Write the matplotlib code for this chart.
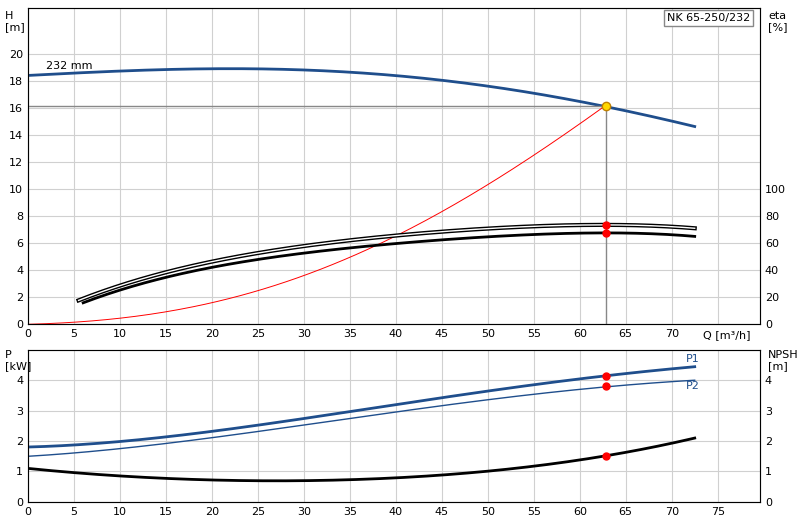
import matplotlib
matplotlib.use("Agg")
import matplotlib.pyplot as plt
import numpy as np

q_h = [0, 10, 20, 30, 40, 50, 55, 60, 63, 72.5]
h = [18.4, 18.7, 18.9, 18.8, 18.4, 17.6, 17.0, 16.5, 16.1, 14.6]
q_sys = [0, 5, 10, 15, 20, 25, 30, 35, 40, 45, 50, 55, 60, 62.8]
h_sys = [0, 0.1, 0.4, 0.9, 1.6, 2.5, 3.6, 4.9, 6.5, 8.3, 10.3, 12.5, 14.9, 16.1]
q_eta1 = [6, 10, 17, 25, 30, 40, 50, 60, 63, 72.5]
eta1 = [15, 26, 38, 47, 52, 60, 65, 67, 67, 65]
q_eta2 = [5.5, 10, 17, 25, 30, 40, 50, 60, 63, 72.5]
eta2 = [17, 29, 42, 52, 57, 66, 71, 73, 73, 71]
q_p = [0, 10, 20, 30, 40, 50, 63, 72.5]
p1 = [1.8, 2.0, 2.3, 2.75, 3.2, 3.65, 4.15, 4.45]
p2 = [1.5, 1.75, 2.1, 2.55, 2.95, 3.35, 3.8, 4.0]
q_npsh = [0, 10, 20, 30, 40, 50, 55, 63, 67, 72.5]
npsh = [1.1, 0.85, 0.72, 0.7, 0.78, 1.0, 1.2, 1.5, 1.75, 2.1]
q_op = 62.8

def smooth(x, y, n=200):
    x = np.asarray(x, float); y = np.asarray(y, float)
    c = np.polyfit(x, y, min(4, len(x) - 1))
    xs = np.linspace(x[0], x[-1], n)
    return xs, np.polyval(c, xs)

fig = plt.figure(figsize=(8, 5.2), dpi=100)
ax1 = fig.add_axes([0.035, 0.377, 0.915, 0.608])
ax2 = fig.add_axes([0.035, 0.035, 0.915, 0.292])
blue = "#1f4e8c"
for ax in (ax1, ax2):
    ax.set_xlim(0, 79.6)
    ax.set_xticks(np.arange(0, 80, 5))
    ax.grid(True, color="#d0d0d0", lw=0.8)
    ax.tick_params(labelsize=8, length=0)
    for s in ax.spines.values():
        s.set_color("#888888")
ax1.set_ylim(0, 23.4)
ax1.set_yticks(np.arange(0, 22, 2))
ax1.set_xticklabels([str(v) for v in range(0, 75, 5)] + [""])
ax1.text(76, -0.8, "Q [m³/h]", fontsize=8, ha="center", va="center")

xs, ys = smooth(q_h, h); ax1.plot(xs, ys, color=blue, lw=2)
xs, ys = smooth(q_sys, h_sys); ax1.plot(xs, ys, color="red", lw=0.7)
xs, ys = smooth(q_eta1, np.array(eta1) / 10); ax1.plot(xs, ys, color="black", lw=2)
xs, ys = smooth(q_eta2, np.array(eta2) / 10)
ax1.plot(xs, ys, color="black", lw=3); ax1.plot(xs, ys, color="white", lw=1)
ax1.plot([0, q_op], [16.1, 16.1], color="#888888", lw=1)
ax1.plot([q_op, q_op], [0, 16.1], color="#888888", lw=1)
ax1.plot(q_op, 16.1, "o", color="#ffd700", mec="#c08000", ms=6, zorder=5)
ax1.plot([q_op, q_op], [6.7, 7.3], "o", color="red", ms=5, zorder=5)
ax1.text(2, 18.9, "232 mm", fontsize=8)
ax1.text(-2.5, 23.2, "H\n[m]", fontsize=8, va="top")
a1r = ax1.twinx(); a1r.set_ylim(0, 234)
a1r.set_yticks(np.arange(0, 101, 20)); a1r.tick_params(labelsize=8, length=0)
a1r.text(80.5, 23.2 * 10, "eta\n[%]", fontsize=8, va="top")
ax1.text(78.5, 23.0, "NK 65-250/232", fontsize=8, ha="right", va="top",
         bbox=dict(facecolor="white", edgecolor="#888888", pad=2))

ax2.set_ylim(0, 5)
ax2.set_yticks(range(0, 5))
xs, ys = smooth(q_p, p1); ax2.plot(xs, ys, color=blue, lw=2)
xs, ys = smooth(q_p, p2); ax2.plot(xs, ys, color=blue, lw=1)
xs, ys = smooth(q_npsh, npsh); ax2.plot(xs, ys, color="black", lw=2)
ax2.plot([q_op] * 3, [4.15, 3.8, 1.5], "o", color="red", ms=5, zorder=5)
ax2.text(71.5, 4.6, "P1", fontsize=8, color=blue)
ax2.text(71.5, 3.7, "P2", fontsize=8, color=blue)
ax2.text(-2.5, 5.0, "P\n[kW]", fontsize=8, va="top")
a2r = ax2.twinx(); a2r.set_ylim(0, 5)
a2r.set_yticks(range(0, 5)); a2r.tick_params(labelsize=8, length=0)
a2r.text(80.5, 5.0, "NPSH\n[m]", fontsize=8, va="top")
fig.savefig("out.png", dpi=100)
